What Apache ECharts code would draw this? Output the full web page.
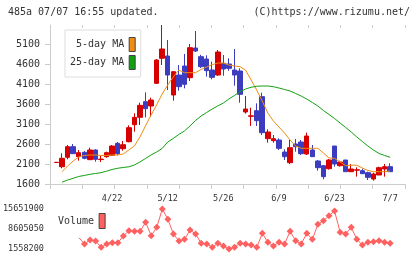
<!DOCTYPE html>
<html>
<head>
<meta charset="utf-8">
<script src="https://cdn.jsdelivr.net/npm/echarts@6/dist/echarts.min.js"></script>
<style>
html,body{margin:0;padding:0;background:#fff;}
#c{width:420px;height:259px;}
</style>
</head>
<body>
<div id="c"></div>
<script>
const dates = ['4/8','4/9','4/10','4/11','4/14','4/15','4/16','4/17','4/18','4/21',
  '4/22','4/23','4/24','4/25','4/28','4/30','5/2','5/7','5/8','5/9',
  '5/12','5/13','5/14','5/15','5/16','5/19','5/20','5/21','5/22','5/23',
  '5/26','5/27','5/28','5/29','5/30','6/2','6/3','6/4','6/5','6/6',
  '6/9','6/10','6/11','6/12','6/13','6/16','6/17','6/18','6/19','6/20',
  '6/23','6/24','6/25','6/26','6/27','6/30','7/1','7/2','7/3','7/4','7/7'];
const opens = [2138,2032,2268,2533,2283,2392,2208,2450,2212,2283,
  2317,2617,2483,2658,3083,3267,3658,3550,4117,4742,
  4800,3825,4325,4550,4258,5000,4783,4725,4450,4325,
  4617,4600,4450,4425,3400,3292,3433,3783,2733,2683,
  2700,2400,2133,2600,2650,2350,2450,2175,2058,1983,
  2550,2058,2200,1908,1945,1933,1883,1725,1825,1975,2033];
const closes = [2142,2242,2533,2358,2383,2242,2450,2217,2222,2383,
  2550,2358,2583,3008,3267,3567,3483,3700,4700,4975,
  4325,4408,4033,4092,5008,4925,4533,4433,4267,4900,
  4475,4492,4325,3842,3475,3305,3183,2883,2900,2733,
  2492,2283,2508,2533,2358,2800,2283,2008,1783,2200,
  2100,2150,1908,1975,1955,1858,1767,1850,2008,2033,1908];
const lows = [2135,1992,2218,2350,2183,2217,2200,2158,2150,2258,
  2300,2317,2433,2642,2908,3075,3267,3283,4100,4575,
  3950,3683,3933,3992,4175,4900,4500,4283,4217,4300,
  4308,4433,4058,3633,3358,3050,3050,2825,2633,2633,
  2450,2200,2100,2408,2325,2325,2283,1933,1717,1958,
  2033,2033,1908,1908,1783,1850,1700,1683,1825,1783,1908];
const highs = [2145,2367,2575,2600,2450,2425,2508,2467,2300,2408,
  2575,2650,2675,3067,3367,3633,3892,3758,4720,5575,
  5200,4420,4575,4850,5100,5425,4830,4817,4658,4950,
  4825,4742,4975,4492,3800,3508,3617,3883,2967,2825,
  2742,2467,2700,2725,2700,2883,2575,2200,2075,2225,
  2550,2183,2200,2100,2017,1983,1908,1883,2033,2100,2117];
const ma5 = [null,1908,2050,2175,2275,2313,2325,2325,2313,2313,
  2325,2325,2350,2450,2550,2775,3050,3325,3575,3850,
  4075,4275,4450,4383,4383,4383,4463,4525,4583,4625,
  4625,4575,4550,4533,4450,4200,3950,3675,3375,3175,
  3025,2875,2700,2550,2492,2492,2492,2492,2375,2250,
  2242,2150,2058,2070,2070,2000,1938,1908,1908,1908,1925];
const ma25 = [null,1645,1700,1742,1788,1813,1842,1863,1883,1920,
  1963,1993,2013,2030,2075,2150,2238,2325,2400,2488,
  2650,2738,2838,2925,3050,3188,3300,3388,3475,3550,
  3625,3725,3813,3908,3975,4018,4043,4050,4050,4033,
  4000,3963,3925,3863,3800,3725,3638,3550,3438,3338,
  3238,3125,3013,2900,2775,2663,2550,2450,2363,2313,2268];
const volumes = [null,null,null,null,5540000,3319900,4729300,4376900,2157200,3319900,
  3777960,3777960,6138650,8006070,7794660,7794660,10965700,6244350,9204030,15651900,
  12022770,6843340,4376900,4975920,8252710,6843340,3566550,3319900,2157200,3566550,
  2615230,1558200,2157200,3566550,3319900,2967570,2157200,7089980,3918900,2615230,
  3918900,3319900,7794660,4482640,3319900,7089980,4975920,10261060,11529490,13291200,
  14947215,7442320,6843340,9204030,4975920,2967570,3918900,4130300,4482640,3918900,3566550];
const priceTicks = [1600,2100,2600,3100,3600,4100,4600,5100];
const volumeTicks = [1558200,8605050,15651900];
const labelDates = ['4/22','5/12','5/26','6/9','6/23','7/7'];

const MONO = 'DejaVu Sans Mono';
const AX = '#cccccc';
const TXT = '#333333';
const UP = '#d60000';
const DOWN = '#3c3cc0';
const plain = v => String(Math.round(v));

const candleData = dates.map((d, i) => [opens[i], closes[i], lows[i], highs[i]]);
const volData = volumes.map((v, i) => (i === 4 ? {value: v, symbol: 'none'} : v));

const PLOT_LEFT = 53.72, PLOT_W = 339.2;

const chart = echarts.init(document.getElementById('c'), null, {renderer: 'canvas'});
chart.setOption({
  animation: false,
  backgroundColor: '#fff',
  title: [
    {text: '485a 07/07 16:55 updated.', left: 8, top: 7, padding: 0,
     textStyle: {fontFamily: MONO, fontSize: 10, fontWeight: 'normal', color: TXT}},
    {text: '(C)https://www.rizumu.net/', right: 10, top: 7, padding: 0,
     textStyle: {fontFamily: MONO, fontSize: 10, fontWeight: 'normal', color: TXT}}
  ],
  legend: [
    {data: ['5-day MA', '25-day MA'], left: 65, top: 30, orient: 'vertical', align: 'right',
     icon: 'rect', itemWidth: 6, itemHeight: 14, itemGap: 3,
     backgroundColor: '#fff', borderColor: '#dddddd', borderWidth: 1, padding: [7, 5, 7, 5],
     itemStyle: {borderColor: '#444', borderWidth: 1},
     textStyle: {fontFamily: MONO, fontSize: 10, color: TXT}},
    {data: ['Volume'], left: 58, top: 213, orient: 'vertical', align: 'right',
     icon: 'rect', itemWidth: 6, itemHeight: 15, padding: 0,
     itemStyle: {borderColor: '#444', borderWidth: 1},
     textStyle: {fontFamily: MONO, fontSize: 10, color: TXT}}
  ],
  grid: [
    {left: 50, top: 25, width: 355, height: 159},
    {left: PLOT_LEFT, top: 25, width: PLOT_W, height: 159},
    {left: PLOT_LEFT, top: 209, width: PLOT_W, height: 40}
  ],
  xAxis: [
    {type: 'value', gridIndex: 0, min: 0, max: 11, interval: 1,
     axisLine: {show: true, lineStyle: {color: AX}},
     axisTick: {show: true, length: 5, lineStyle: {color: AX}},
     axisLabel: {show: false}, splitLine: {show: false}},
    {type: 'value', gridIndex: 0, min: 0, max: 11, interval: 1,
     axisLine: {show: false},
     axisTick: {show: true, inside: true, length: 3, lineStyle: {color: AX}},
     axisLabel: {show: false}, splitLine: {show: false}},
    {type: 'category', gridIndex: 1, data: dates, boundaryGap: true,
     axisLine: {show: false}, axisTick: {show: false}, splitLine: {show: false},
     axisLabel: {show: true, interval: (i, v) => labelDates.includes(v), margin: 10,
       fontFamily: MONO, fontSize: 8.5, color: TXT}},
    {type: 'category', gridIndex: 2, data: dates, boundaryGap: true, show: false}
  ],
  yAxis: [
    {type: 'value', gridIndex: 0, min: 1600, max: 5575,
     axisLine: {show: true, lineStyle: {color: AX}},
     axisTick: {show: true, length: 5, customValues: priceTicks, lineStyle: {color: AX}},
     axisLabel: {show: true, customValues: priceTicks, formatter: plain, margin: 10,
       fontFamily: MONO, fontSize: 10, color: TXT},
     splitLine: {show: false}},
    {type: 'value', gridIndex: 0, min: 1600, max: 5575,
     axisLine: {show: false},
     axisTick: {show: true, inside: true, length: 3, customValues: priceTicks, lineStyle: {color: AX}},
     axisLabel: {show: false}, splitLine: {show: false}},
    {type: 'value', gridIndex: 1, min: 1600, max: 5575, show: false, splitLine: {show: false}},
    {type: 'value', gridIndex: 2, min: 1558200, max: 15651900,
     axisLine: {show: false}, axisTick: {show: false}, splitLine: {show: false},
     axisLabel: {show: true, customValues: volumeTicks, formatter: plain, margin: 10,
       fontFamily: MONO, fontSize: 8.5, color: TXT}}
  ],
  series: [
    {name: 'price', type: 'candlestick', xAxisIndex: 2, yAxisIndex: 2, data: candleData,
     barWidth: 5,
     itemStyle: {color: UP, color0: DOWN, borderColor: UP, borderColor0: DOWN, borderWidth: 1}},
    {name: '5-day MA', type: 'line', xAxisIndex: 2, yAxisIndex: 2, data: ma5, symbol: 'none',
     lineStyle: {color: '#f08c10', width: 1}, itemStyle: {color: '#f08c10'}, z: 3},
    {name: '25-day MA', type: 'line', xAxisIndex: 2, yAxisIndex: 2, data: ma25, symbol: 'none',
     lineStyle: {color: '#10a010', width: 1}, itemStyle: {color: '#10a010'}, z: 3},
    {name: 'Volume', type: 'line', xAxisIndex: 3, yAxisIndex: 3, data: volData,
     symbol: 'diamond', symbolSize: 7, showAllSymbol: true, connectNulls: false,
     lineStyle: {color: '#ff6060', width: 1}, itemStyle: {color: '#ff6060'}}
  ]
});
</script>
</body>
</html>
